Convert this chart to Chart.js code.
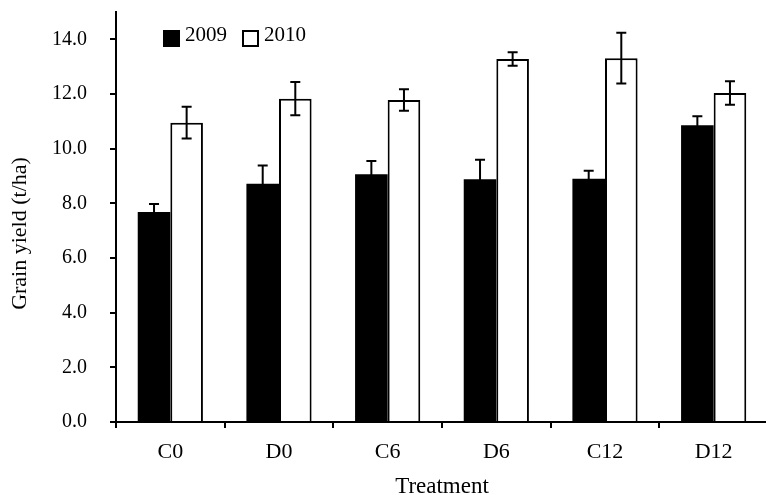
<!DOCTYPE html>
<html>
<head>
<meta charset="utf-8">
<script src="https://cdn.jsdelivr.net/npm/chart.js@4"></script>
<style>
  html, body { margin: 0; padding: 0; background: #fff; overflow: hidden; }
  #wrap { width: 769px; height: 495px; position: relative; }
</style>
</head>
<body>
<div id="wrap"><canvas id="myCanvas"></canvas></div>
<script>
const categories = ["C0", "D0", "C6", "D6", "C12", "D12"];
const yield2009 = [7.68, 8.72, 9.06, 8.88, 8.90, 10.86];
const err2009 = [0.30, 0.66, 0.49, 0.71, 0.29, 0.33];
const yield2010 = [10.95, 11.83, 11.78, 13.28, 13.31, 12.04];
const err2010 = [0.58, 0.61, 0.39, 0.25, 0.93, 0.43];
const yTicks = [0, 2, 4, 6, 8, 10, 12, 14];

const serif = "'Liberation Serif', 'DejaVu Serif', serif";

// error bars drawn through the y scale
const errorBars = {
    id: "errorBars",
    afterDatasetsDraw(chart) {
        const ctx = chart.ctx;
        const y = chart.scales.y;
        const errs = [err2009, err2010];
        ctx.save();
        ctx.strokeStyle = "#000";
        ctx.lineWidth = 2;
        chart.data.datasets.forEach((ds, i) => {
            const meta = chart.getDatasetMeta(i);
            meta.data.forEach((bar, j) => {
                const v = ds.data[j];
                const e = errs[i][j];
                const top = y.getPixelForValue(v + e);
                const bot = y.getPixelForValue(v - e);
                ctx.beginPath();
                ctx.moveTo(bar.x, top);
                ctx.lineTo(bar.x, bot);
                ctx.moveTo(bar.x - 5, top);
                ctx.lineTo(bar.x + 5, top);
                ctx.moveTo(bar.x - 5, bot);
                ctx.lineTo(bar.x + 5, bot);
                ctx.stroke();
            });
        });
        ctx.restore();
    }
};

// legend sitting inside the plot area
const insideLegend = {
    id: "insideLegend",
    afterDraw(chart) {
        const ctx = chart.ctx;
        ctx.save();
        ctx.font = "21px " + serif;
        ctx.textBaseline = "alphabetic";
        let x = 164;
        chart.data.datasets.forEach(ds => {
            ctx.fillStyle = ds.backgroundColor;
            ctx.fillRect(x, 31, 15, 15);
            ctx.strokeStyle = "#000";
            ctx.lineWidth = 2;
            ctx.strokeRect(x, 31, 15, 15);
            ctx.fillStyle = "#000";
            ctx.fillText(ds.label, x + 21, 41);
            x += 79;
        });
        ctx.restore();
    }
};

const myCanvas = document.getElementById("myCanvas");

const gChart = new Chart(myCanvas, {
    type: "bar",
    data: {
        labels: categories,
        datasets: [
            {
                label: "2009",
                data: yield2009,
                backgroundColor: "#000",
                borderColor: "#000",
                borderWidth: 0,
                categoryPercentage: 0.6,
                barPercentage: 1.0
            },
            {
                label: "2010",
                data: yield2010,
                backgroundColor: "#fff",
                borderColor: "#000",
                borderWidth: 2,
                categoryPercentage: 0.6,
                barPercentage: 1.0
            }
        ]
    },
    options: {
        responsive: true,
        maintainAspectRatio: false,
        animation: false,
        layout: { padding: { top: 12, left: 0, right: 1, bottom: 0 } },
        plugins: {
            legend: { display: false },
            tooltip: { enabled: false }
        },
        scales: {
            x: {
                grid: {
                    offset: true,
                    drawOnChartArea: false,
                    drawTicks: true,
                    tickLength: 6,
                    color: "#000",
                    lineWidth: 2
                },
                border: { display: true, color: "#000", width: 2 },
                ticks: {
                    color: "#000",
                    font: { family: serif, size: 22 },
                    padding: 11
                },
                title: {
                    display: true,
                    text: "Treatment",
                    color: "#000",
                    font: { family: serif, size: 23 },
                    padding: { top: 0, bottom: -6 }
                },
                afterFit(scale) {
                    scale.height = 73;
                    scale.paddingLeft = 0;
                    scale.paddingRight = 0;
                }
            },
            y: {
                min: 0,
                max: 15,
                grid: {
                    drawOnChartArea: false,
                    drawTicks: true,
                    tickLength: 6,
                    color: "#000",
                    lineWidth: 2
                },
                border: { display: true, color: "#000", width: 2 },
                ticks: {
                    stepSize: 2,
                    includeBounds: false,
                    color: "#000",
                    font: { family: serif, size: 20 },
                    padding: 23,
                    callback: v => yTicks.includes(v) ? v.toFixed(1) : ""
                },
                title: {
                    display: true,
                    // trailing spaces nudge the rotated title down a little
                    text: "Grain yield (t/ha)\u00a0\u00a0\u00a0\u00a0\u00a0\u00a0",
                    color: "#000",
                    font: { family: serif, size: 22 },
                    padding: { top: 7, bottom: 0 }
                },
                afterFit(scale) {
                    scale.width = 116;
                    scale.paddingTop = 0;
                    scale.paddingBottom = 0;
                }
            }
        }
    },
    plugins: [errorBars, insideLegend]
});
</script>
</body>
</html>
